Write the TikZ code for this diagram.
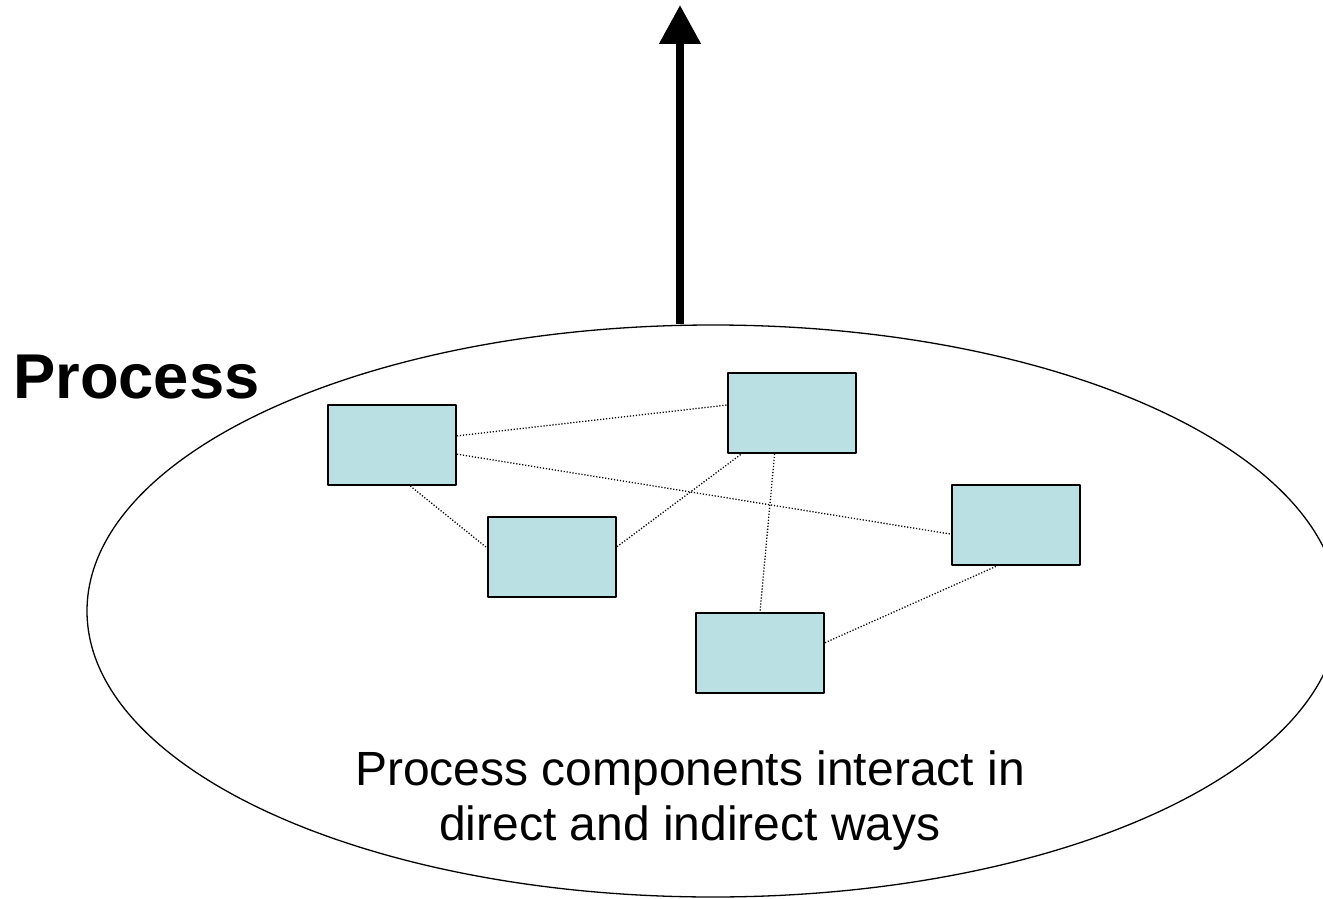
\documentclass[tikz,border=0pt]{standalone}
\usepackage{fontspec}
\setmainfont{Liberation Sans}
\usetikzlibrary{shapes.geometric,arrows.meta}
\definecolor{boxfill}{RGB}{187,224,227}
\begin{document}
\begin{tikzpicture}[x=1pt,y=-1pt,line join=round,>={Triangle[width=40pt,length=39pt]}]
	\tikzset{comp/.style={draw,line width=2pt,fill=boxfill,minimum width=128pt,minimum height=80pt,inner sep=0pt},
		link/.style={line width=1.3pt,dash pattern=on 1.2pt off 1.8pt}}
	\useasboundingbox (0,0) rectangle (1323,899);
	\node[ellipse,draw,line width=1.3pt,minimum width=1252pt,minimum height=572pt,inner sep=0pt] (proc) at (713,611) {};
	\coordinate (up) at (680,5);
	\draw[->,line width=8pt] (up |- proc.north) -- (up);
	\node[anchor=base west,inner sep=0pt,font=\fontsize{63.3}{70}\selectfont\bfseries] (title) at (13,398) {Process};
	% components
	\node[comp] (a) at (392,445) {};
	\node[comp] (b) at (792,413) {};
	\node[comp] (c) at (552,557) {};
	\node[comp] (d) at (1016,525) {};
	\node[comp] (e) at (760,653) {};
	\draw[link] (a.8) -- (b.173);
	\draw[link] (a.-8) -- (d.188);
	\draw[link] (a.-66) -- (c.172);
	\draw[link] (c.9) -- (b.-141);
	\draw[link] (b.-113) -- (e.90);
	\draw[link] (e.9) -- (d.-115);
	\node[anchor=base,align=center,inner sep=0pt,font=\fontsize{48}{55}\selectfont] (note) at (690,840) {Process components interact in\\direct and indirect ways};
\end{tikzpicture}
\end{document}
